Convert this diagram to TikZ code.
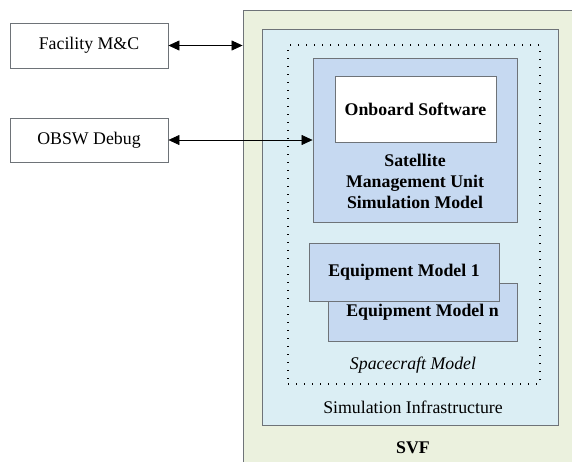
\documentclass[tikz,border=0pt]{standalone}
\usepackage{fontspec}
\setmainfont{Liberation Serif}
\usepackage{tikz}
\usetikzlibrary{arrows.meta}
\definecolor{svfgreen}{HTML}{EBF1DE}
\definecolor{infrablue}{HTML}{DBEEF4}
\definecolor{modelblue}{HTML}{C6D9F1}
\definecolor{edgegray}{HTML}{6E7378}
\tikzset{
  box/.style={draw=edgegray, line width=0.9pt, rectangle, inner sep=0pt},
  extbox/.style={box, fill=white, minimum width=158pt, minimum height=45pt},
  modelbox/.style={box, fill=modelblue},
  link/.style={{Triangle[length=11pt,width=10pt]}-{Triangle[length=11pt,width=10pt]}, line width=0.6pt},
}

\begin{document}
\begin{tikzpicture}[x=1pt, y=-1pt, font=\fontsize{17.8}{21}\selectfont]
      \useasboundingbox (0,0) rectangle (572,461);

      % containers
      \node[box, fill=svfgreen, minimum width=332pt, minimum height=455pt] (svf) at (409,237.5) {};
      \node[box, fill=infrablue, minimum width=296pt, minimum height=396pt] (infra) at (410,227) {};
      \node[draw, line width=1.2pt, dash pattern=on 1.2pt off 6.8pt, minimum width=252pt, minimum height=339pt] (scm) at (414,214.5) {};

      % satellite management unit
      \node[modelbox, minimum width=204pt, minimum height=164pt] (smu) at (415,140) {};
      \node[box, fill=white, minimum width=161pt, minimum height=66pt] (obsw) at (415.5,109) {\textbf{Onboard Software}};
      \node[align=center] (smulabel) at (415,181) {\textbf{Satellite}\\\textbf{Management Unit}\\\textbf{Simulation Model}};

      % equipment models
      \node[modelbox, minimum width=189pt, minimum height=58pt] (eqn) at (422.5,312) {\textbf{Equipment Model n}};
      \node[modelbox, minimum width=190pt, minimum height=58pt] (eq1) at (404,272) {\textbf{Equipment Model 1}};

      \node (scmlabel) at (413,365) {\textit{Spacecraft Model}};
      \node (infralabel) at (413,407) {Simulation Infrastructure};
      \node (svflabel) at (413,448) {\textbf{SVF}};

      % external interfaces
      \node[extbox] (fmc) at (89,45.5) {Facility M\&C};
      \node[extbox, minimum height=44pt] (debug) at (89,140) {OBSW Debug};

      \draw[link] (fmc.east) -- (fmc.east -| svf.west);
      \draw[link] (debug.east) -- (debug.east -| smu.west);

    \end{tikzpicture}
\end{document}
